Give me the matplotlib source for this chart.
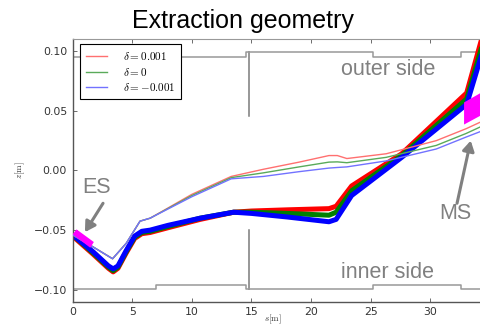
import matplotlib
matplotlib.use("Agg")
import matplotlib.pyplot as plt
from matplotlib.patches import Polygon
import numpy as np

plt.rcParams['mathtext.fontset'] = 'cm'

# ---- data ----
deltas = ["0.001", "0", "-0.001"]
colors = ["red", "green", "blue"]
light_colors = ["#ff7070", "#5aaa5a", "#7272ff"]

# thick bundle
s_thick = [0, 1.7, 3.0, 3.4, 3.8, 4.5, 5.2, 5.8, 6.5, 8, 10.7, 13.5, 15, 18, 21.5, 22.1, 23.4, 27.6, 33.05, 34.3]
z_thick_red = [-0.055, -0.070, -0.082, -0.085, -0.082, -0.069, -0.057, -0.053, -0.052, -0.048, -0.041, -0.035, -0.034, -0.033, -0.032, -0.030, -0.013, 0.014, 0.065, 0.110]
z_thick_green = [-0.054, -0.069, -0.081, -0.084, -0.081, -0.068, -0.056, -0.052, -0.051, -0.047, -0.040, -0.035, -0.035, -0.036, -0.0375, -0.035, -0.017, 0.0125, 0.060, 0.103]
z_thick_blue = [-0.054, -0.068, -0.080, -0.0825, -0.080, -0.067, -0.055, -0.051, -0.050, -0.046, -0.040, -0.035, -0.036, -0.039, -0.043, -0.041, -0.021, 0.011, 0.0555, 0.097]

# thin bundle
s_thin = [0, 1.7, 3.35, 4.5, 5.65, 6.5, 10, 13.3, 16, 19, 21.5, 22.2, 23, 26.3, 30.5, 33, 34.3]
z_thin_red = [-0.054, -0.064, -0.074, -0.061, -0.0425, -0.040, -0.020, -0.005, 0.001, 0.007, 0.0125, 0.0125, 0.010, 0.014, 0.025, 0.035, 0.041]
z_thin_green = [-0.054, -0.064, -0.074, -0.061, -0.0425, -0.040, -0.021, -0.006, -0.002, 0.003, 0.007, 0.0072, 0.0065, 0.011, 0.021, 0.031, 0.037]
z_thin_blue = [-0.054, -0.064, -0.074, -0.061, -0.0425, -0.040, -0.022, -0.007, -0.005, -0.001, 0.002, 0.0025, 0.003, 0.008, 0.018, 0.028, 0.033]

# aperture
s_outer = [0, 14.5, 14.5, 14.8, 14.8, 14.8, 25.2, 25.2, 32.6, 32.6, 34.5]
z_outer = [0.0955, 0.0955, 0.0995, 0.0995, 0.046, 0.0995, 0.0995, 0.0955, 0.0955, 0.0995, 0.0995]
s_inner = [0, 7.0, 7.0, 14.5, 14.5, 14.8, 14.8, 14.8, 25.2, 25.2, 32.6, 32.6, 34.5]
z_inner = [-0.0995, -0.0995, -0.096, -0.096, -0.0995, -0.0995, -0.050, -0.0995, -0.0995, -0.096, -0.096, -0.0995, -0.0995]

# septa
es_s = [0, 0.33, 1.78, 1.48]
es_z = [-0.0535, -0.0494, -0.060, -0.0648]
ms_s = [32.83, 34.4, 34.4, 32.83]
ms_z = [0.057, 0.066, 0.047, 0.0385]

fig = plt.figure(figsize=(4.81, 3.27), dpi=100)
ax = fig.add_axes([0.151, 0.0774, 0.849, 0.8026])

ax.plot(s_outer, z_outer, color='#999999', lw=1.1, zorder=1)
ax.plot(s_inner, z_inner, color='#999999', lw=1.1, zorder=1)

thick = [z_thick_red, z_thick_green, z_thick_blue]
thin = [z_thin_red, z_thin_green, z_thin_blue]
for zt, c in zip(thick, colors):
    ax.plot(s_thick, zt, color=c, lw=3.6, solid_joinstyle='round', zorder=2)
handles = []
for zt, c, d in zip(thin, light_colors, deltas):
    h, = ax.plot(s_thin, zt, color=c, lw=1.0, zorder=3,
                 label=r'$\delta=%s$' % d)
    handles.append(h)

ax.add_patch(Polygon(list(zip(es_s, es_z)), closed=True, facecolor='#ff00ff', edgecolor='none', zorder=5))
ax.add_patch(Polygon(list(zip(ms_s, ms_z)), closed=True, facecolor='#ff00ff', edgecolor='none', zorder=5))

gray = '#808080'
fs = 15.5
ax.text(26.45, 0.085, 'outer side', color=gray, fontsize=fs, ha='center', va='center', family='Liberation Sans')
ax.text(26.45, -0.0858, 'inner side', color=gray, fontsize=fs, ha='center', va='center', family='Liberation Sans')
ax.text(2.04, -0.0142, 'ES', color=gray, fontsize=fs, ha='center', va='center', family='Liberation Sans')
ax.text(32.07, -0.036, 'MS', color=gray, fontsize=fs, ha='center', va='center', family='Liberation Sans')
arrow_kw = dict(arrowstyle='-|>,head_width=0.35,head_length=0.6', color=gray, lw=2.2, shrinkA=0, shrinkB=0)
ax.annotate('', xy=(1.03, -0.0517), xytext=(2.55, -0.0275), arrowprops=arrow_kw)
ax.annotate('', xy=(33.39, 0.025), xytext=(32.24, -0.0275), arrowprops=arrow_kw)

ax.set_xlim(0, 34.25)
ax.set_ylim(-0.11, 0.11)
ax.set_xticks([0, 5, 10, 15, 20, 25, 30])
ax.set_yticks([-0.10, -0.05, 0.00, 0.05, 0.10])
ax.set_yticklabels(['\u22120.10', '\u22120.05', '0.00', '0.05', '0.10'])
ax.tick_params(direction='in', length=3, width=0.6, colors='#555555', labelsize=7.8,
               top=True, right=False, labelcolor='#333333', pad=4)
for side in ['left', 'bottom']:
    ax.spines[side].set_color('#555555')
    ax.spines[side].set_linewidth(1.0)
ax.spines['top'].set_color('#999999')
ax.spines['right'].set_visible(False)

ax.set_xlabel(r'$s[\mathrm{m}]$', fontsize=6.5, color='#333333', va='center')
ax.xaxis.set_label_coords(0.49, -0.068)
ax.set_ylabel(r'$z[\mathrm{m}]$', fontsize=6.5, labelpad=5, color='#333333')

leg = ax.legend(handles=handles, loc='upper left', bbox_to_anchor=(0.018, 0.982), borderaxespad=0,
                fontsize=8, fancybox=False, edgecolor='black', framealpha=1,
                handlelength=1.9, handletextpad=1.4, borderpad=0.55, labelspacing=0.32)
leg.get_frame().set_linewidth(0.8)

fig.text(0.505, 0.914, 'Extraction geometry', fontsize=18, ha='center', va='baseline',
         family='Liberation Sans', color='black')

fig.savefig('out.png', dpi=100)
